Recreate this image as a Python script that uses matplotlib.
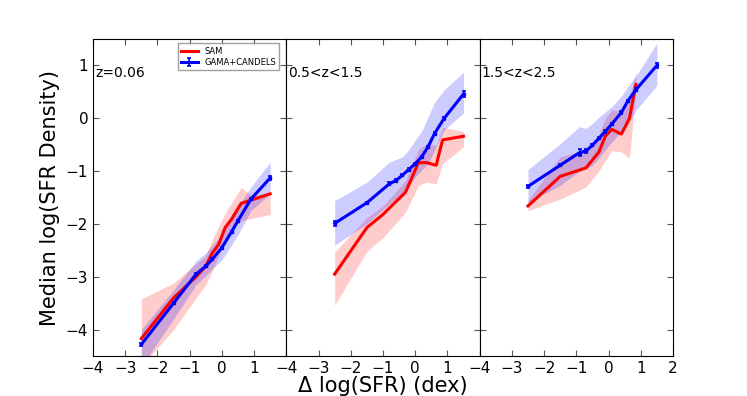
import matplotlib
matplotlib.use("Agg")
import matplotlib.pyplot as plt

# panel labels
PANELS = ["z=0.06", "0.5<z<1.5", "1.5<z<2.5"]

# --- z=0.06 ---
sam_x1 = [-2.5, -1.5, -0.8, -0.5, -0.3, -0.1, 0.1, 0.3, 0.6, 0.9, 1.5]
sam_y1 = [-4.17, -3.4, -3.0, -2.8, -2.55, -2.39, -2.07, -1.91, -1.61, -1.55, -1.43]
sam_lo1 = [-4.7, -4.0, -3.4, -3.15, -2.9, -2.6, -2.3, -2.1, -1.94, -1.9, -1.82]
sam_hi1 = [-3.42, -3.12, -2.75, -2.6, -2.3, -2.05, -1.8, -1.6, -1.31, -1.45, -1.43]
obs_x1 = [-2.5, -1.5, -0.8, -0.5, -0.3, 0.0, 0.3, 0.5, 0.9, 1.5]
obs_y1 = [-4.28, -3.5, -2.95, -2.8, -2.67, -2.45, -2.15, -1.94, -1.53, -1.13]
obs_e1 = [0.03, 0.02, 0.02, 0.02, 0.02, 0.02, 0.02, 0.02, 0.02, 0.03]
obs_lo1 = [-4.7, -3.8, -3.15, -2.98, -2.85, -2.68, -2.4, -2.2, -1.75, -1.43]
obs_hi1 = [-4.0, -3.25, -2.7, -2.55, -2.4, -2.2, -1.88, -1.68, -1.3, -0.83]

# --- 0.5<z<1.5 ---
sam_x2 = [-2.5, -1.5, -1.0, -0.3, 0.1, 0.35, 0.65, 0.85, 1.5]
sam_y2 = [-2.95, -2.07, -1.82, -1.40, -0.84, -0.84, -0.89, -0.41, -0.34]
sam_lo2 = [-3.54, -2.52, -2.26, -1.78, -1.27, -1.21, -1.24, -0.86, -0.54]
sam_hi2 = [-2.53, -1.88, -1.66, -1.18, -0.6, -0.48, -0.51, -0.17, -0.25]
obs_x2 = [-2.5, -1.5, -0.8, -0.6, -0.4, -0.2, 0.0, 0.2, 0.4, 0.6, 0.9, 1.5]
obs_y2 = [-1.99, -1.6, -1.24, -1.18, -1.08, -0.97, -0.86, -0.73, -0.54, -0.29, 0.0, 0.46]
obs_e2 = [0.04, 0.02, 0.03, 0.03, 0.02, 0.02, 0.02, 0.02, 0.02, 0.03, 0.03, 0.06]
obs_lo2 = [-2.40, -2.0, -1.62, -1.52, -1.42, -1.3, -1.11, -0.98, -0.86, -0.6, -0.22, 0.10]
obs_hi2 = [-1.56, -1.21, -0.83, -0.78, -0.73, -0.6, -0.41, -0.25, 0.03, 0.3, 0.54, 0.87]

# --- 1.5<z<2.5 ---
sam_x3 = [-2.5, -1.5, -0.7, -0.3, -0.1, 0.1, 0.4, 0.65, 0.85]
sam_y3 = [-1.66, -1.10, -0.94, -0.64, -0.34, -0.21, -0.30, 0.0, 0.64]
sam_lo3 = [-1.75, -1.53, -1.3, -1.0, -0.8, -0.61, -0.64, -0.75, 0.55]
sam_hi3 = [-1.55, -0.73, -0.6, -0.3, 0.0, 0.16, 0.13, 0.41, 0.87]
obs_x3 = [-2.5, -1.5, -0.9, -0.7, -0.5, -0.3, -0.1, 0.1, 0.4, 0.6, 0.85, 1.5]
obs_y3 = [-1.29, -0.89, -0.65, -0.62, -0.51, -0.38, -0.25, -0.11, 0.11, 0.33, 0.54, 1.0]
obs_e3 = [0.03, 0.02, 0.06, 0.03, 0.02, 0.02, 0.02, 0.02, 0.02, 0.02, 0.03, 0.05]
obs_lo3 = [-1.59, -1.27, -1.0, -0.95, -0.89, -0.75, -0.6, -0.45, -0.25, -0.1, 0.15, 0.62]
obs_hi3 = [-0.97, -0.48, -0.16, -0.19, -0.1, 0.02, 0.12, 0.22, 0.42, 0.6, 0.8, 1.42]

SAM = [(sam_x1, sam_y1, sam_lo1, sam_hi1), (sam_x2, sam_y2, sam_lo2, sam_hi2),
       (sam_x3, sam_y3, sam_lo3, sam_hi3)]
OBS = [(obs_x1, obs_y1, obs_e1, obs_lo1, obs_hi1), (obs_x2, obs_y2, obs_e2, obs_lo2, obs_hi2),
       (obs_x3, obs_y3, obs_e3, obs_lo3, obs_hi3)]

XTICKS = [-4, -3, -2, -1, 0, 1, 2]
YTICKS = [-4, -3, -2, -1, 0, 1]

fig = plt.figure(figsize=(7.47, 3.96), dpi=100)
left, bottom, width, height = 0.1245, 0.101, 0.2588, 0.8005

for i, label in enumerate(PANELS):
    ax = fig.add_axes([left + i * width, bottom, width, height])
    sx, sy, slo, shi = SAM[i]
    ox, oy, oe, olo, ohi = OBS[i]
    ax.fill_between(sx, slo, shi, color="red", alpha=0.2, lw=0)
    ax.fill_between(ox, olo, ohi, color="blue", alpha=0.2, lw=0)
    ax.plot(sx, sy, color="red", lw=2.2, label="SAM")
    ax.errorbar(ox, oy, yerr=oe, color="blue", lw=2.2, elinewidth=1.2,
                capsize=1.5, capthick=1.2, ms=2, marker="s", label="GAMA+CANDELS")
    ax.set_xlim(-4, 2)
    ax.set_ylim(-4.5, 1.5)
    ax.tick_params(direction="in", top=True, right=True, labelsize=11, length=4,
                   color="#555555")
    if i < 2:
        ax.set_xticks(XTICKS, ["\u22124", "\u22123", "\u22122", "\u22121", "0", "1", ""])
    else:
        ax.set_xticks(XTICKS)
    ax.set_yticks(YTICKS)
    if i > 0:
        ax.set_yticklabels([])
    ax.text(-3.93, 0.85, label, fontsize=10, va="center")
    if i == 0:
        ax.set_ylabel("Median log(SFR Density)", fontsize=15)
        ax.legend(loc="upper right", fontsize=6, handlelength=2, borderpad=0.4,
                  labelspacing=0.3, fancybox=False, edgecolor="#888888",
                  bbox_to_anchor=(0.985, 1.0))
    if i == 1:
        ax.set_xlabel("\u0394 log(SFR) (dex)", fontsize=15, labelpad=0)

fig.savefig("out.png", dpi=100)
